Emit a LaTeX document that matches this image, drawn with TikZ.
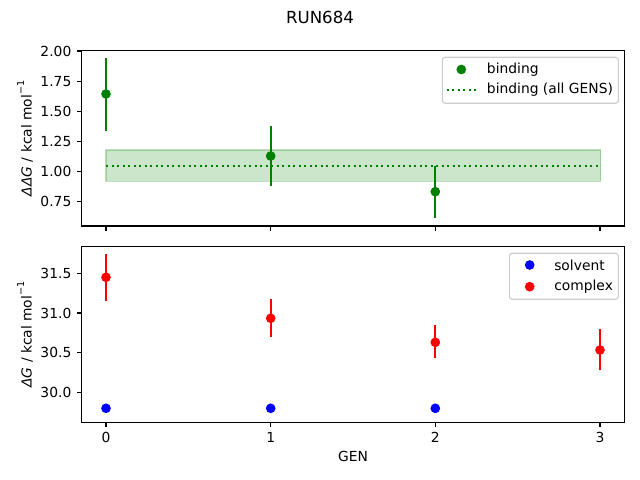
\documentclass[tikz,border=0pt]{standalone}
\usepackage{fontspec}
\setmainfont{DejaVu Sans}
\newfontfamily\obl{DejaVu Sans Oblique}
\definecolor{mplgreen}{RGB}{0,128,0}
\definecolor{mplred}{RGB}{255,0,0}
\definecolor{mplblue}{RGB}{0,0,255}
\definecolor{legedge}{RGB}{204,204,204}
\begin{document}
\begin{tikzpicture}[x=0.01in,y=-0.01in,
  spine/.style={draw=black,line width=0.8pt},
  tickmark/.style={draw=black,line width=0.8pt},
  ticklab/.style={font=\fontsize{10}{12}\selectfont,inner sep=0pt},
  ebar/.style={line width=1.5pt},
  mk/.style={circle,fill=#1,draw=none,minimum size=7pt,inner sep=0pt},
  legbox/.style={draw=legedge,fill=white,fill opacity=0.8,draw opacity=1,rounded corners=2pt,line width=0.8pt},
  legtext/.style={font=\fontsize{10}{12}\selectfont,anchor=west,inner sep=0pt},
  dotline/.style={draw=mplgreen,line width=1.5pt,dash pattern=on 1.5pt off 2.475pt}]
\useasboundingbox (0,0) rectangle (640,480);
% title
\node[font=\fontsize{12}{14}\selectfont] (title) at (320,17) {RUN684};
% ---------- top axes ----------
\fill[mplgreen,fill opacity=0.2] (106,150) rectangle (600.7,181.3);
\draw[mplgreen,draw opacity=0.25,line width=1pt] (106,150) rectangle (600.7,181.3);
\coordinate (dl0) at (106,165.7);
\coordinate (dl1) at (600.7,165.7);
\draw[dotline] (dl0) -- (dl1);
% error bars top
\coordinate (t0a) at (106,58.3); \coordinate (t0b) at (106,130.7);
\coordinate (t1a) at (270.7,126); \coordinate (t1b) at (270.7,185.7);
\coordinate (t2a) at (435.3,165.7); \coordinate (t2b) at (435.3,217.7);
\draw[ebar,mplgreen] (t0a) -- (t0b);
\draw[ebar,mplgreen] (t1a) -- (t1b);
\draw[ebar,mplgreen] (t2a) -- (t2b);
\node[mk=mplgreen] (b0) at (106,94) {};
\node[mk=mplgreen] (b1) at (270.7,156) {};
\node[mk=mplgreen] (b2) at (435.3,191.7) {};
% spines
\draw[spine] (81.5,50.7) rectangle (624.8,226);
% y ticks top
\foreach \yy/\lab [count=\i] in {51/2.00,81.1/1.75,111.2/1.50,141.2/1.25,171.3/1.00,201.4/0.75}{
  \draw[tickmark] (81.5,\yy) -- (76.6,\yy);
  \node[ticklab,anchor=east] (ty\i) at (71.6,\yy) {\lab};
}
\foreach \xx in {106,270.7,435.3,600}{
  \draw[tickmark] (\xx,226) -- (\xx,230.9);
}
\node[rotate=90,font=\fontsize{10}{12}\selectfont] (ylabtop) at (25,138.3) {{\obl ΔΔG} / kcal mol\raisebox{0.55em}{\fontsize{7}{8}\selectfont −1}};
% legend top
\draw[legbox] (442.3,57.3) rectangle (618.3,103.3);
\node[mk=mplgreen] (legm1) at (461.3,69.5) {};
\node[legtext] (legt1) at (486.7,69.5) {binding};
\coordinate (legl0) at (446.7,90);
\coordinate (legl1) at (475.5,90);
\draw[dotline] (legl0) -- (legl1);
\node[legtext] (legt2) at (486.7,90) {binding (all GENS)};
% ---------- bottom axes ----------
\coordinate (c0a) at (106,254); \coordinate (c0b) at (106,300.7);
\coordinate (c1a) at (270.7,299); \coordinate (c1b) at (270.7,336.7);
\coordinate (c2a) at (435.3,325); \coordinate (c2b) at (435.3,357.7);
\coordinate (c3a) at (600,329); \coordinate (c3b) at (600,370);
\coordinate (s0a) at (106,406.3); \coordinate (s0b) at (106,410);
\coordinate (s1a) at (270.7,406.3); \coordinate (s1b) at (270.7,410);
\coordinate (s2a) at (435.3,406.3); \coordinate (s2b) at (435.3,410);
\draw[ebar,mplblue] (s0a) -- (s0b);
\draw[ebar,mplblue] (s1a) -- (s1b);
\draw[ebar,mplblue] (s2a) -- (s2b);
\node[mk=mplblue] (sv0) at (106,408.3) {};
\node[mk=mplblue] (sv1) at (270.7,408.3) {};
\node[mk=mplblue] (sv2) at (435.3,408.3) {};
\draw[ebar,mplred] (c0a) -- (c0b);
\draw[ebar,mplred] (c1a) -- (c1b);
\draw[ebar,mplred] (c2a) -- (c2b);
\draw[ebar,mplred] (c3a) -- (c3b);
\node[mk=mplred] (cx0) at (106,277.3) {};
\node[mk=mplred] (cx1) at (270.7,318.3) {};
\node[mk=mplred] (cx2) at (435.3,342.3) {};
\node[mk=mplred] (cx3) at (600,350) {};
\draw[spine] (81.5,246.7) rectangle (624.8,422.3);
\foreach \yy/\lab [count=\i] in {273.3/31.5,313/31.0,352.7/30.5,392.4/30.0}{
  \draw[tickmark] (81.5,\yy) -- (76.6,\yy);
  \node[ticklab,anchor=east] (by\i) at (71.6,\yy) {\lab};
}
\foreach \xx/\lab [count=\i] in {106/0,270.7/1,435.3/2,600/3}{
  \draw[tickmark] (\xx,422.3) -- (\xx,427.2);
  \node[ticklab,anchor=north] (bx\i) at (\xx,432.2) {\lab};
}
\node[font=\fontsize{10}{12}\selectfont,anchor=north,inner sep=0pt] (xlab) at (353,451) {GEN};
\node[rotate=90,font=\fontsize{10}{12}\selectfont] (ylabbot) at (25,334.5) {{\obl ΔG} / kcal mol\raisebox{0.55em}{\fontsize{7}{8}\selectfont −1}};
% legend bottom
\draw[legbox] (509.3,253.3) rectangle (618.3,299.3);
\node[mk=mplblue] (legm3) at (529.7,265) {};
\node[legtext] (legt3) at (554,265) {solvent};
\node[mk=mplred] (legm4) at (529.7,286.7) {};
\node[legtext] (legt4) at (554,286.7) {complex};
\end{tikzpicture}
\end{document}
